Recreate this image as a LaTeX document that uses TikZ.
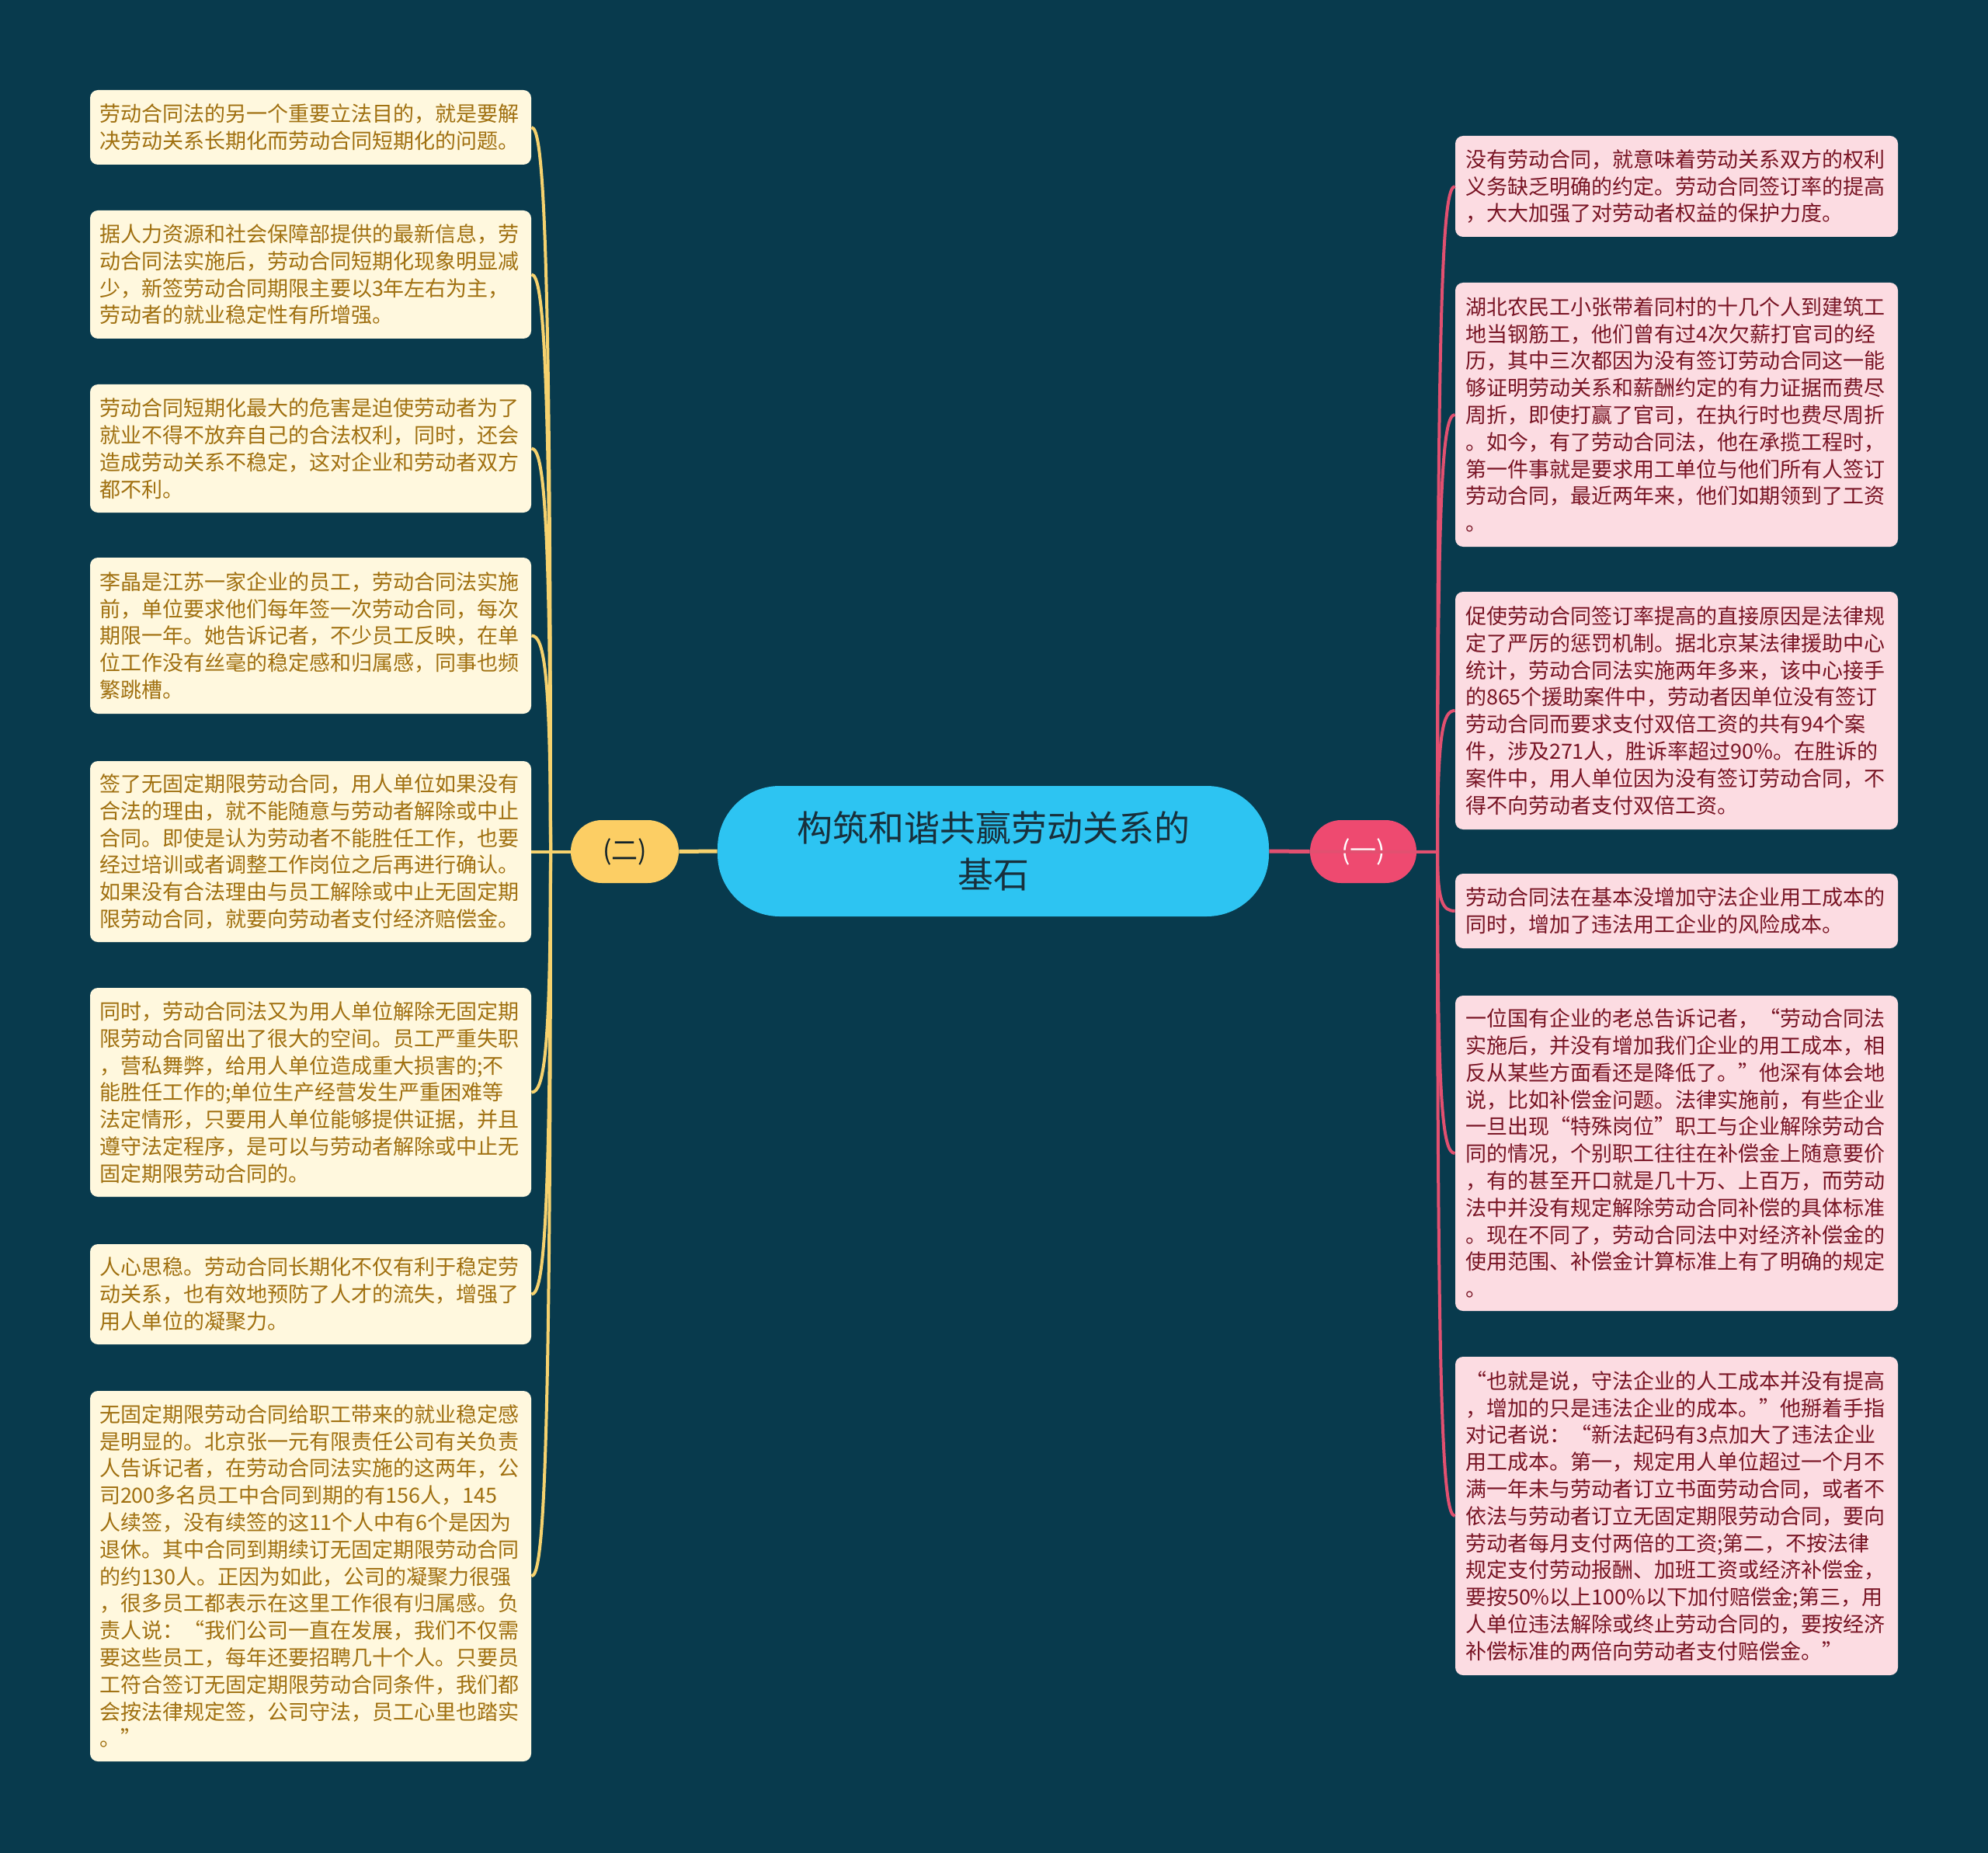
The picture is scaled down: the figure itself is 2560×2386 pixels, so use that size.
\documentclass[tikz,border=0pt]{standalone}
\usepackage{fontspec}
\setmainfont{Noto Sans CJK SC}
\definecolor{bgc}{RGB}{8,58,77}
\definecolor{lfill}{RGB}{255,248,222}
\definecolor{ltext}{RGB}{160,112,16}
\definecolor{rfill}{RGB}{252,220,226}
\definecolor{rtext}{RGB}{120,20,36}
\definecolor{ylw}{RGB}{252,206,100}
\definecolor{pnk}{RGB}{238,74,112}
\definecolor{cyn}{RGB}{45,196,242}
\definecolor{ctext}{RGB}{24,48,60}
\definecolor{yline}{RGB}{246,210,110}
\definecolor{pline}{RGB}{226,80,112}
\tikzset{
  lbox/.style={fill=lfill, text=ltext, rounded corners=5pt, text width=272pt,
    inner xsep=6pt, inner ysep=0pt, align=left, anchor=center,
    font={\fontsize{13.5pt}{17.4pt}\selectfont}},
  rbox/.style={fill=rfill, text=rtext, rounded corners=5pt, text width=272pt,
    inner xsep=6.5pt, inner ysep=0pt, align=left, anchor=center,
    font={\fontsize{13.5pt}{17.4pt}\selectfont}},
  subnode/.style={minimum height=40.5pt, inner sep=0pt, rounded corners=20pt,
    font={\fontsize{17pt}{20pt}\selectfont}},
  ylink/.style={draw=yline, line width=2pt},
  plink/.style={draw=pline, line width=2pt},
  ymain/.style={draw=yline, line width=2.5pt},
  pmain/.style={draw=pline, line width=2.5pt}
}
\begin{document}
\begin{tikzpicture}[x=0.5pt,y=-0.5pt]
\useasboundingbox (0,0) rectangle (2560,2386);
\fill[bgc] (0,0) rectangle (2560,2386);

% centre
\node[fill=cyn, text=ctext, minimum width=355pt, minimum height=84pt, rounded corners=40pt,
  align=center, inner sep=0pt, font={\fontsize{23pt}{30pt}\selectfont}] (root) at (1279,1096)
  {构筑和谐共赢劳动关系的\\基石};
\node[subnode, fill=ylw, text=ctext!70!black, minimum width=69.5pt] (n2) at (804.5,1096.5) {(二)};
\node[subnode, fill=pnk, text=white, minimum width=68.5pt] (n1) at (1755.5,1096.5) {(一)};

\coordinate (jl) at (709,1097);
\coordinate (jr) at (1851,1097);

% left boxes
\node[lbox, minimum height=48pt] (L1) at (400,164) {劳动合同法的另一个重要立法目的，就是要解\\决劳动关系长期化而劳动合同短期化的问题。};
\node[lbox, minimum height=82.5pt] (L2) at (400,353.5) {据人力资源和社会保障部提供的最新信息，劳\\动合同法实施后，劳动合同短期化现象明显减\\少，新签劳动合同期限主要以3年左右为主，\\劳动者的就业稳定性有所增强。};
\node[lbox, minimum height=82.5pt] (L3) at (400,577.5) {劳动合同短期化最大的危害是迫使劳动者为了\\就业不得不放弃自己的合法权利，同时，还会\\造成劳动关系不稳定，这对企业和劳动者双方\\都不利。};
\node[lbox, minimum height=100.5pt] (L4) at (400,818.5) {李晶是江苏一家企业的员工，劳动合同法实施\\前，单位要求他们每年签一次劳动合同，每次\\期限一年。她告诉记者，不少员工反映，在单\\位工作没有丝毫的稳定感和归属感，同事也频\\繁跳槽。};
\node[lbox, minimum height=116.5pt] (L5) at (400,1096.5) {签了无固定期限劳动合同，用人单位如果没有\\合法的理由，就不能随意与劳动者解除或中止\\合同。即使是认为劳动者不能胜任工作，也要\\经过培训或者调整工作岗位之后再进行确认。\\如果没有合法理由与员工解除或中止无固定期\\限劳动合同，就要向劳动者支付经济赔偿金。};
\node[lbox, minimum height=134.5pt] (L6) at (400,1406.5) {同时，劳动合同法又为用人单位解除无固定期\\限劳动合同留出了很大的空间。员工严重失职\\，营私舞弊，给用人单位造成重大损害的;不\\能胜任工作的;单位生产经营发生严重困难等\\法定情形，只要用人单位能够提供证据，并且\\遵守法定程序，是可以与劳动者解除或中止无\\固定期限劳动合同的。};
\node[lbox, minimum height=64.5pt] (L7) at (400,1666.5) {人心思稳。劳动合同长期化不仅有利于稳定劳\\动关系，也有效地预防了人才的流失，增强了\\用人单位的凝聚力。};
\node[lbox, minimum height=238.5pt] (L8) at (400,2029.5) {无固定期限劳动合同给职工带来的就业稳定感\\是明显的。北京张一元有限责任公司有关负责\\人告诉记者，在劳动合同法实施的这两年，公\\司200多名员工中合同到期的有156人，145\\人续签，没有续签的这11个人中有6个是因为\\退休。其中合同到期续订无固定期限劳动合同\\的约130人。正因为如此，公司的凝聚力很强\\，很多员工都表示在这里工作很有归属感。负\\责人说：“我们公司一直在发展，我们不仅需\\要这些员工，每年还要招聘几十个人。只要员\\工符合签订无固定期限劳动合同条件，我们都\\会按法律规定签，公司守法，员工心里也踏实\\。”};

% right boxes
\node[rbox, minimum height=65pt] (R1) at (2159,240) {没有劳动合同，就意味着劳动关系双方的权利\\义务缺乏明确的约定。劳动合同签订率的提高\\，大大加强了对劳动者权益的保护力度。};
\node[rbox, minimum height=170pt] (R2) at (2159,534) {湖北农民工小张带着同村的十几个人到建筑工\\地当钢筋工，他们曾有过4次欠薪打官司的经\\历，其中三次都因为没有签订劳动合同这一能\\够证明劳动关系和薪酬约定的有力证据而费尽\\周折，即使打赢了官司，在执行时也费尽周折\\。如今，有了劳动合同法，他在承揽工程时，\\第一件事就是要求用工单位与他们所有人签订\\劳动合同，最近两年来，他们如期领到了工资\\。};
\node[rbox, minimum height=153pt] (R3) at (2159,915) {促使劳动合同签订率提高的直接原因是法律规\\定了严厉的惩罚机制。据北京某法律援助中心\\统计，劳动合同法实施两年多来，该中心接手\\的865个援助案件中，劳动者因单位没有签订\\劳动合同而要求支付双倍工资的共有94个案\\件，涉及271人，胜诉率超过90\%。在胜诉的\\案件中，用人单位因为没有签订劳动合同，不\\得不向劳动者支付双倍工资。};
\node[rbox, minimum height=48pt] (R4) at (2159,1173) {劳动合同法在基本没增加守法企业用工成本的\\同时，增加了违法用工企业的风险成本。};
\node[rbox, minimum height=203pt] (R5) at (2159,1485) {一位国有企业的老总告诉记者，“劳动合同法\\实施后，并没有增加我们企业的用工成本，相\\反从某些方面看还是降低了。”他深有体会地\\说，比如补偿金问题。法律实施前，有些企业\\一旦出现“特殊岗位”职工与企业解除劳动合\\同的情况，个别职工往往在补偿金上随意要价\\，有的甚至开口就是几十万、上百万，而劳动\\法中并没有规定解除劳动合同补偿的具体标准\\。现在不同了，劳动合同法中对经济补偿金的\\使用范围、补偿金计算标准上有了明确的规定\\。};
\node[rbox, minimum height=205pt] (R6) at (2159,1952) {“也就是说，守法企业的人工成本并没有提高\\，增加的只是违法企业的成本。”他掰着手指\\对记者说：“新法起码有3点加大了违法企业\\用工成本。第一，规定用人单位超过一个月不\\满一年未与劳动者订立书面劳动合同，或者不\\依法与劳动者订立无固定期限劳动合同，要向\\劳动者每月支付两倍的工资;第二，不按法律\\规定支付劳动报酬、加班工资或经济补偿金，\\要按50\%以上100\%以下加付赔偿金;第三，用\\人单位违法解除或终止劳动合同的，要按经济\\补偿标准的两倍向劳动者支付赔偿金。”};

% main connectors
\draw[ymain] (root.west) -- (n2.east);
\draw[pmain] (root.east) -- (n1.west);
\draw[ylink] (n2.west) -- (L5.east);
\draw[plink] (n1.west) -- (jr);

% left curves
\draw[ylink] (L1.east) .. controls (700,164) and (709,304) .. (jl);
\draw[ylink] (L2.east) .. controls (700,353.5) and (709,465) .. (jl);
\draw[ylink] (L3.east) .. controls (700,577.5) and (709,655) .. (jl);
\draw[ylink] (L4.east) .. controls (700,818.5) and (709,860) .. (jl);
\draw[ylink] (L6.east) .. controls (700,1406.5) and (709,1360) .. (jl);
\draw[ylink] (L7.east) .. controls (700,1666.5) and (709,1581) .. (jl);
\draw[ylink] (L8.east) .. controls (700,2029.5) and (709,1889) .. (jl);

% right curves
\draw[plink] (R1.west) .. controls (1858,240) and (1851,368) .. (jr);
\draw[plink] (R2.west) .. controls (1858,534) and (1851,618) .. (jr);
\draw[plink] (R3.west) .. controls (1858,915) and (1851,942) .. (jr);
\draw[plink] (R4.west) .. controls (1858,1173) and (1851,1162) .. (jr);
\draw[plink] (R5.west) .. controls (1858,1485) and (1851,1427) .. (jr);
\draw[plink] (R6.west) .. controls (1858,1952) and (1851,1824) .. (jr);
\end{tikzpicture}
\end{document}
